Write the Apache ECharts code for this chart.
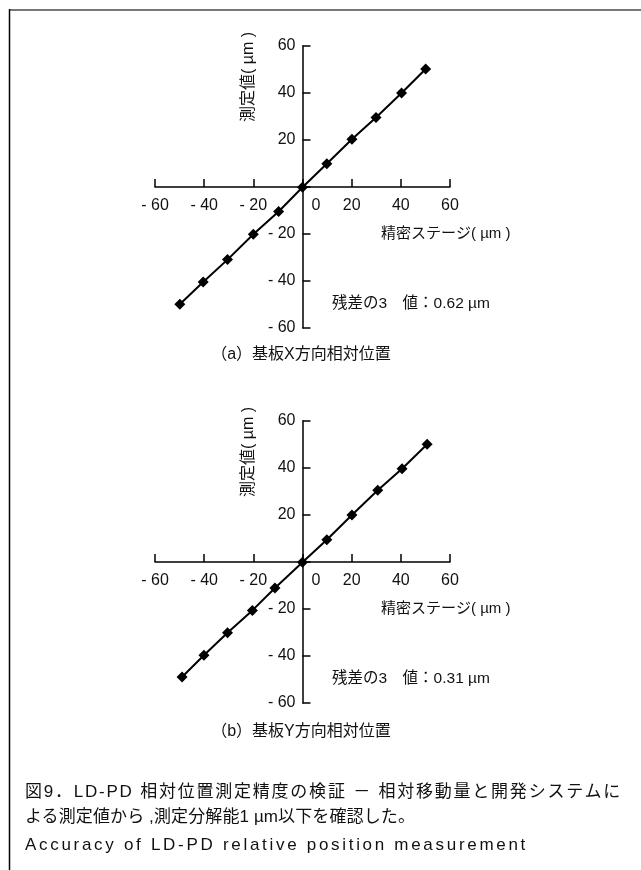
<!DOCTYPE html>
<html>
<head>
<meta charset="utf-8">
<script src="https://cdn.jsdelivr.net/npm/echarts@6/dist/echarts.min.js"></script>
<style>
html,body{margin:0;padding:0;background:#fff;}
#wrap{position:relative;width:641px;height:870px;}
#chart{position:absolute;left:0;top:0;width:641px;height:870px;}
.cap{position:absolute;left:25px;white-space:nowrap;font-family:"Liberation Sans","Noto Sans CJK JP",sans-serif;font-size:17px;color:#111;line-height:22px;}
</style>
</head>
<body>
<div id="wrap">
<div id="chart"></div>
<div class="cap" id="c1" data-w="597" style="top:781px;">図9．LD-PD 相対位置測定精度の検証 － 相対移動量と開発システムに</div>
<div class="cap" id="c2" data-w="390" style="top:806px;">よる測定値から ,測定分解能1 µm以下を確認した。</div>
<div class="cap" id="c3" data-w="503" style="top:834px;">Accuracy of LD-PD relative position measurement</div>
</div>
<script>
// ---- data ----
const xTicks = [-60, -40, -20, 0, 20, 40, 60];
const stageA = [-49.9, -40.4, -30.5, -20, -9.7, 0, 9.9, 20.1, 29.9, 40.3, 50.1];
const measA  = [-49.9, -40.4, -30.9, -20.1, -10.4, -0.1, 9.9, 20.3, 29.6, 40, 50.2];
const stageB = [-49, -40.1, -30.5, -20.4, -11.2, 0, 9.9, 20.1, 30.6, 40.5, 50.7];
const measB  = [-48.9, -39.7, -30.1, -20.6, -11.1, -0.1, 9.5, 20, 30.5, 39.7, 50.1];
const xName = '精密ステージ( µm )';
const yName = '測定値( µm )';
const residA = '残差の3　値：0.62 µm';
const residB = '残差の3　値：0.31 µm';
const capA = '（a）基板X方向相対位置';
const capB = '（b）基板Y方向相対位置';

const FONT = '"Liberation Sans","Noto Sans CJK JP",sans-serif';
const TXT = '#111';
const GW = 295, GH = 282;

function fmt(v){ return v < 0 ? '- ' + (-v) : '' + v; }

function xAxisCfg(gi){
  return {
    type:'value', gridIndex:gi, min:-60, max:60, interval:20,
    position:'bottom', offset:-GH/2,
    axisLine:{onZero:false, lineStyle:{color:'#000', width:1.5}},
    axisTick:{inside:true, length:8, lineStyle:{color:'#000', width:1.5}},
    splitLine:{show:false},
    axisLabel:{
      margin:11, fontSize:16, color:TXT, fontFamily:FONT,
      formatter: v => v === 0 ? '{z|0}' : fmt(v),
      rich:{z:{fontSize:16, color:TXT, fontFamily:FONT, padding:[0,0,0,27]}}
    }
  };
}
function yAxisCfg(gi){
  return {
    type:'value', gridIndex:gi, min:-60, max:60, interval:20,
    position:'left', offset:-GW/2,
    axisLine:{onZero:false, lineStyle:{color:'#000', width:1.5}},
    axisTick:{inside:true, length:8, lineStyle:{color:'#000', width:1.5}},
    splitLine:{show:false},
    axisLabel:{margin:7, fontSize:16, color:TXT, fontFamily:FONT,
      formatter: v => v === 0 ? '' : fmt(v)}
  };
}
function seriesCfg(i, xs, ys){
  return {
    type:'line', xAxisIndex:i, yAxisIndex:i,
    data: xs.map((x, k) => [x, ys[k]]),
    symbol:'diamond', symbolSize:11, showSymbol:true,
    lineStyle:{color:'#000', width:2},
    itemStyle:{color:'#000'},
    animation:false, z:3
  };
}
function txt(x, y, s, size, opt){
  return {
    type:'text', x:x, y:y,
    style:Object.assign({text:s, fill:TXT, font:size + 'px ' + FONT, textVerticalAlign:'middle', textAlign:'left'}, opt || {})
  };
}

const off = 375;
const chart = echarts.init(document.getElementById('chart'), null, {renderer:'canvas'});
chart.setOption({
  animation:false,
  backgroundColor:'#fff',
  grid:[
    {left:155, top:46, width:GW, height:GH},
    {left:155, top:46 + off, width:GW, height:GH}
  ],
  xAxis:[xAxisCfg(0), xAxisCfg(1)],
  yAxis:[yAxisCfg(0), yAxisCfg(1)],
  series:[seriesCfg(0, stageA, measA), seriesCfg(1, stageB, measB)],
  graphic:[
    {type:'line', shape:{x1:9, y1:10, x2:641, y2:10}, style:{stroke:'#777', lineWidth:2}},
    {type:'line', shape:{x1:9.5, y1:9, x2:9.5, y2:870}, style:{stroke:'#000', lineWidth:1.5}},
    txt(381, 234, xName, 15),
    txt(381, 234 + off, xName, 15),
    {type:'text', x:249, y:77, rotation:Math.PI/2,
      style:{text:yName, fill:TXT, font:'16px ' + FONT, textAlign:'center', textVerticalAlign:'middle'}},
    {type:'text', x:249, y:77 + off, rotation:Math.PI/2,
      style:{text:yName, fill:TXT, font:'16px ' + FONT, textAlign:'center', textVerticalAlign:'middle'}},
    txt(332, 304, residA, 15.5),
    txt(332, 304 + off, residB, 15.5),
    txt(301, 355, capA, 16, {textAlign:'center'}),
    txt(301, 355 + off + 2, capB, 16, {textAlign:'center'})
  ]
});

// fit caption line widths via letter spacing
['c1','c2','c3'].forEach(id => {
  const el = document.getElementById(id);
  const target = +el.dataset.w;
  const n = el.textContent.length;
  const w = el.getBoundingClientRect().width;
  el.style.letterSpacing = Math.max(0, (target - w) / n) + 'px';
});
</script>
</body>
</html>
